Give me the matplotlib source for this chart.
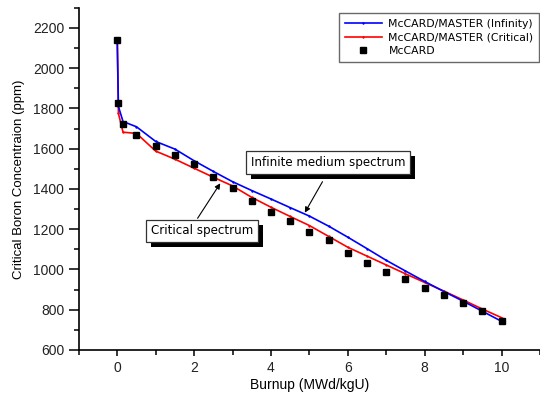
import matplotlib
matplotlib.use('Agg')
import matplotlib.pyplot as plt
import matplotlib.patheffects as pe
from matplotlib.ticker import MultipleLocator

# Burnup steps (MWd/kgU)
burnup = [0, 0.03, 0.15, 0.5, 1.0, 1.5, 2.0, 2.5, 3.0, 3.5, 4.0, 4.5,
          5.0, 5.5, 6.0, 6.5, 7.0, 7.5, 8.0, 8.5, 9.0, 9.5, 10.0]

# McCARD/MASTER with infinite medium spectrum
cbc_infinity = [2140, 1810, 1735, 1709, 1636, 1598, 1540, 1487, 1436, 1392, 1350, 1307,
                1265, 1215, 1160, 1103, 1045, 992, 940, 890, 842, 792, 742]

# McCARD/MASTER with critical spectrum
cbc_critical = [2140, 1775, 1682, 1676, 1588, 1548, 1503, 1458, 1415, 1358, 1309, 1263,
                1218, 1164, 1110, 1066, 1022, 978, 935, 892, 848, 803, 760]

# McCARD reference
cbc_mccard = [2140, 1826, 1721, 1668, 1614, 1569, 1523, 1461, 1406, 1342, 1287, 1239,
              1186, 1145, 1080, 1031, 986, 951, 910, 873, 832, 794, 745]

tick_font = 'Liberation Sans'
note_font = 'DejaVu Sans'

fig = plt.figure(figsize=(5.4, 3.94), dpi=100)
ax = fig.add_axes([0.146, 0.112, 0.854, 0.868])

ax.plot(burnup, cbc_infinity, color='#0000ff', linewidth=1.2, marker='+', markersize=2,
        label='McCARD/MASTER (Infinity)', zorder=3)
ax.plot(burnup, cbc_critical, color='#ff0000', linewidth=1.2, marker='+', markersize=2,
        label='McCARD/MASTER (Critical)', zorder=2)
ax.plot(burnup, cbc_mccard, linestyle='none', marker='s', markersize=4.3, color='black',
        label='McCARD', zorder=4)

ax.set_xlim(-1, 11)
ax.set_ylim(600, 2300)
ax.xaxis.set_major_locator(MultipleLocator(2))
ax.xaxis.set_minor_locator(MultipleLocator(1))
ax.yaxis.set_major_locator(MultipleLocator(200))
ax.yaxis.set_minor_locator(MultipleLocator(100))

for side in ['top', 'right']:
    ax.spines[side].set_visible(False)
for side in ['left', 'bottom']:
    ax.spines[side].set_linewidth(1.2)

ax.tick_params(axis='y', which='major', length=7, width=1.1, direction='out')
ax.tick_params(axis='y', which='minor', length=3.5, width=1.1, direction='out')
ax.tick_params(axis='x', which='major', length=4.5, width=1.1, direction='out')
ax.tick_params(axis='x', which='minor', length=3.5, width=1.1, direction='out')
for lbl in ax.get_xticklabels() + ax.get_yticklabels():
    lbl.set_fontfamily(tick_font)
    lbl.set_fontsize(10)
    lbl.set_color('#222222')

ax.set_xlabel('Burnup (MWd/kgU)', fontfamily=tick_font, fontsize=10, labelpad=2)
ax.set_ylabel('Critical Boron Concentraion (ppm)', fontfamily=tick_font, fontsize=9.5, labelpad=6)

leg = fig.legend(loc='upper right', bbox_to_anchor=(0.999, 0.968), borderaxespad=0,
                 prop={'family': note_font, 'size': 7.8}, fancybox=False,
                 edgecolor='#444444', handlelength=3.4, handletextpad=0.6,
                 labelspacing=0.35, borderpad=0.55)
leg.get_frame().set_linewidth(1.0)

# callout boxes with drop shadow
shadow = [pe.SimplePatchShadow(offset=(3.6, -3.6), shadow_rgbFace='black', alpha=1.0),
          pe.Normal()]
box = dict(boxstyle='square,pad=0.4', facecolor='white', edgecolor='#333333', linewidth=0.9)

t1 = ax.text(5.48, 1532, 'Infinite medium spectrum', ha='center', va='center',
             fontfamily=note_font, fontsize=8.6, bbox=box, zorder=6)
t1.get_bbox_patch().set_path_effects(shadow)
t2 = ax.text(2.21, 1192, 'Critical spectrum', ha='center', va='center',
             fontfamily=note_font, fontsize=8.6, bbox=box, zorder=6)
t2.get_bbox_patch().set_path_effects(shadow)

arrow = dict(arrowstyle='-|>', color='black', linewidth=0.8, mutation_scale=8,
             shrinkA=0, shrinkB=0)
ax.annotate('', xy=(4.88, 1282), xytext=(5.34, 1436), arrowprops=arrow, zorder=5)
ax.annotate('', xy=(2.68, 1428), xytext=(2.09, 1254), arrowprops=arrow, zorder=5)

fig.savefig('out.png', dpi=100)
